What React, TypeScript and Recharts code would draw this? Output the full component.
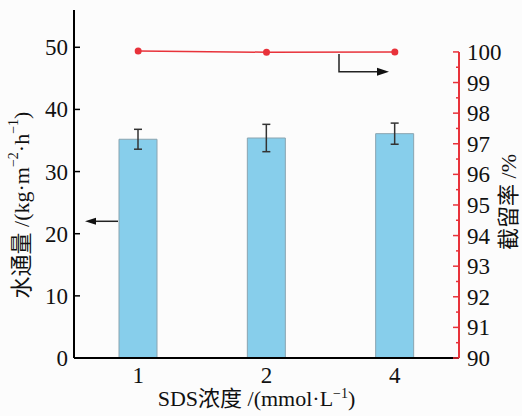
import { ComposedChart, Bar, Line, XAxis, YAxis, ErrorBar, Customized } from 'recharts'

const categories = ['1', '2', '4']
const flux = [35.2, 35.4, 36.1]
const fluxErr = [1.6, 2.2, 1.7]
const rejection = [100.03, 99.99, 100.0]
const fluxTicks = [0, 10, 20, 30, 40, 50]
const rejTicks = [
  90, 90.5, 91, 91.5, 92, 92.5, 93, 93.5, 94, 94.5, 95, 95.5, 96, 96.5, 97, 97.5, 98, 98.5, 99,
  99.5, 100,
]

const W = 522
const H = 416
const LEFT_W = 74
const RIGHT_W = 63
const TOP = 10
const BOTTOM_H = 58
const PLOT_H = H - TOP - BOTTOM_H
const FLUX_MAX = 56
const REJ_MIN = 90
const REJ_MAX = 101.37

const RED = '#e8323a'
const FONT = "'Liberation Serif', 'Noto Sans CJK SC', serif"

const data = categories.map((cat, i) => ({
  cat,
  flux: flux[i],
  err: fluxErr[i],
  rejection: rejection[i],
}))

// the red axis only runs from 90 up to 100, the rest of the right edge is the black frame
const redGap = ((REJ_MAX - 100) / (REJ_MAX - REJ_MIN)) * PLOT_H

function LeftTick({ x, y, payload }: any) {
  return (
    <g>
      <line x1={x} x2={x + 6} y1={y} y2={y} stroke="#000" strokeWidth={1.5} />
      <text x={x - 6} y={y} dy="0.35em" textAnchor="end" fontSize={23} fontFamily={FONT} fill="#111">
        {payload.value}
      </text>
    </g>
  )
}

function RightTick({ x, y, payload }: any) {
  const major = Number.isInteger(payload.value)
  return (
    <g>
      <line x1={x} x2={x - (major ? 6 : 3)} y1={y} y2={y} stroke={RED} strokeWidth={1.5} />
      {major && (
        <text x={x + 8} y={y} dy="0.35em" textAnchor="start" fontSize={23} fontFamily={FONT} fill="#111">
          {payload.value}
        </text>
      )}
    </g>
  )
}

function LeftTitle({ viewBox }: any) {
  const cx = viewBox.x + 21
  const cy = TOP + 195
  return (
    <text
      x={cx}
      y={cy}
      transform={`rotate(-90, ${cx}, ${cy})`}
      textAnchor="middle"
      dominantBaseline="central"
      fontSize={22}
      fontFamily={FONT}
      fill="#111"
    >
      <tspan>水通量 /(kg·m</tspan>
      <tspan fontSize={14} dy={-8}>−2</tspan>
      <tspan dy={8}>·h</tspan>
      <tspan fontSize={14} dy={-8}>−1</tspan>
      <tspan dy={8}>)</tspan>
    </text>
  )
}

function RightTitle({ viewBox }: any) {
  const cx = viewBox.x + 49
  const cy = TOP + 192
  return (
    <text
      x={cx}
      y={cy}
      transform={`rotate(-90, ${cx}, ${cy})`}
      textAnchor="middle"
      dominantBaseline="central"
      fontSize={22}
      fontFamily={FONT}
      fill="#111"
    >
      截留率 /%
    </text>
  )
}

function BottomTitle({ viewBox }: any) {
  const cx = viewBox.x + viewBox.width / 2 - 10
  const cy = TOP + PLOT_H + 48
  return (
    <text x={cx} y={cy} textAnchor="middle" fontSize={22} fontFamily={FONT} fill="#111">
      <tspan>SDS浓度 /(mmol·L</tspan>
      <tspan fontSize={14} dy={-8}>−1</tspan>
      <tspan dy={8}>)</tspan>
    </text>
  )
}

// arrows telling which axis each series belongs to
function Arrows() {
  const yFlux = (v: number) => TOP + (1 - v / FLUX_MAX) * PLOT_H
  const yRej = (v: number) => TOP + ((REJ_MAX - v) / (REJ_MAX - REJ_MIN)) * PLOT_H
  const ya = yFlux(22)
  const lx1 = LEFT_W + 44
  const lx2 = LEFT_W + 11
  const rx = LEFT_W + 265
  const rTop = yRej(99.93)
  const rBot = yRej(99.35)
  const rEnd = LEFT_W + 315
  return (
    <g>
      <line x1={lx1} x2={lx2 + 8} y1={ya} y2={ya} stroke="#222" strokeWidth={1.5} />
      <polygon points={`${lx2},${ya} ${lx2 + 11},${ya - 3.5} ${lx2 + 11},${ya + 3.5}`} fill="#111" />
      <polyline
        points={`${rx},${rTop} ${rx},${rBot} ${rEnd - 10},${rBot}`}
        fill="none"
        stroke="#222"
        strokeWidth={1.5}
      />
      <polygon points={`${rEnd},${rBot} ${rEnd - 12},${rBot - 4} ${rEnd - 12},${rBot + 4}`} fill="#111" />
    </g>
  )
}

export default function App() {
  return (
    <div style={{ position: 'absolute', left: 0, top: 0, width: W, height: H, background: '#fcfcfc' }}>
      <ComposedChart width={W} height={H} data={data} margin={{ top: TOP, right: 0, bottom: 0, left: 0 }}>
        <XAxis
          dataKey="cat"
          height={BOTTOM_H}
          tickLine={false}
          tickSize={0}
          tickMargin={9}
          axisLine={{ stroke: '#000', strokeWidth: 2 }}
          tick={{ fill: '#111', fontSize: 23, fontFamily: FONT }}
          label={<BottomTitle />}
        />
        <XAxis
          xAxisId="top"
          dataKey="cat"
          orientation="top"
          height={0}
          tick={false}
          tickLine={false}
          axisLine={{ stroke: '#000', strokeWidth: 2 }}
        />
        <YAxis
          yAxisId="left"
          width={LEFT_W}
          domain={[0, FLUX_MAX]}
          ticks={fluxTicks}
          interval={0}
          tickLine={false}
          tickSize={0}
          tickMargin={0}
          tick={<LeftTick />}
          axisLine={{ stroke: '#000', strokeWidth: 2 }}
          label={<LeftTitle />}
        />
        <YAxis
          yAxisId="frame"
          orientation="right"
          width={0}
          type="number"
          domain={[0, 1]}
          tick={false}
          tickLine={false}
          axisLine={{ stroke: '#000', strokeWidth: 2 }}
        />
        <YAxis
          yAxisId="right"
          orientation="right"
          width={RIGHT_W}
          domain={[REJ_MIN, REJ_MAX]}
          ticks={rejTicks}
          interval={0}
          tickLine={false}
          tickSize={0}
          tickMargin={0}
          tick={<RightTick />}
          axisLine={{ stroke: RED, strokeWidth: 2, strokeDasharray: `0 ${redGap} 1000` }}
          label={<RightTitle />}
        />
        <Bar
          yAxisId="left"
          dataKey="flux"
          barSize={38}
          fill="#87ceeb"
          stroke="#8aa4b0"
          strokeWidth={1}
          isAnimationActive={false}
        >
          <ErrorBar dataKey="err" width={4} stroke="#333" strokeWidth={1.5} />
        </Bar>
        <Line
          yAxisId="right"
          dataKey="rejection"
          stroke={RED}
          strokeWidth={1.5}
          dot={{ r: 3.5, fill: RED, stroke: RED, strokeWidth: 0 }}
          isAnimationActive={false}
        />
        <Customized component={<Arrows />} />
      </ComposedChart>
    </div>
  )
}
